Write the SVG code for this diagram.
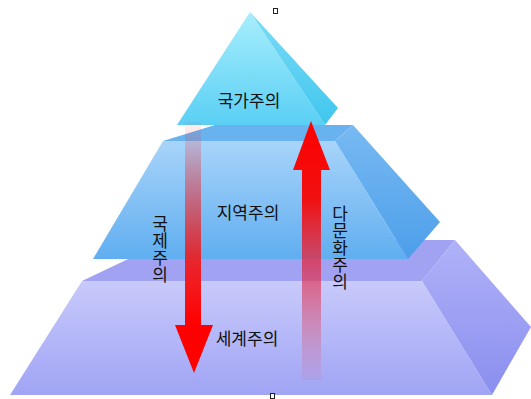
<svg xmlns="http://www.w3.org/2000/svg" width="531" height="399" viewBox="0 0 531 399">
<defs>
<style>
.t{font-family:"Noto Sans CJK KR","Noto Sans",sans-serif;font-size:17px;fill:#111;text-anchor:middle}
.v{font-family:"Noto Sans CJK KR","Noto Sans",sans-serif;font-size:17px;fill:#111;writing-mode:vertical-rl;text-anchor:start}
.h{fill:#fff;stroke:#222;stroke-width:1}
</style>
<linearGradient id="topF" x1="0" y1="0" x2="0" y2="1"><stop offset="0" stop-color="#a8eefc"/><stop offset="1" stop-color="#5acff4"/></linearGradient>
<linearGradient id="topS" x1="0" y1="0" x2="0" y2="1"><stop offset="0" stop-color="#7cdcf6"/><stop offset="1" stop-color="#40c6ee"/></linearGradient>
<linearGradient id="midF" x1="0" y1="0" x2="0" y2="1"><stop offset="0" stop-color="#a8d4fa"/><stop offset="1" stop-color="#60aef0"/></linearGradient>
<linearGradient id="midS" x1="0" y1="0" x2="0" y2="1"><stop offset="0" stop-color="#78baf2"/><stop offset="1" stop-color="#4c9eea"/></linearGradient>
<linearGradient id="botF" x1="0" y1="0" x2="0" y2="1"><stop offset="0" stop-color="#c8cafb"/><stop offset="1" stop-color="#a0a4f4"/></linearGradient>
<linearGradient id="botS" x1="0" y1="0" x2="0" y2="1"><stop offset="0" stop-color="#b0b2f8"/><stop offset="1" stop-color="#8a8eee"/></linearGradient>
<linearGradient id="down" x1="0" y1="122" x2="0" y2="373" gradientUnits="userSpaceOnUse"><stop offset="0" stop-color="#ff2020" stop-opacity="0.05"/><stop offset="0.55" stop-color="#f01818" stop-opacity="0.9"/><stop offset="0.8" stop-color="#ff0000"/><stop offset="1" stop-color="#ff0000"/></linearGradient>
<linearGradient id="up" x1="0" y1="121" x2="0" y2="380" gradientUnits="userSpaceOnUse"><stop offset="0" stop-color="#ff0000"/><stop offset="0.3" stop-color="#f01010"/><stop offset="0.6" stop-color="#e03050" stop-opacity="0.7"/><stop offset="1" stop-color="#e06080" stop-opacity="0.1"/></linearGradient>
</defs>
<g id="tier-bottom">
<polygon points="82,281 422,281 455,240 168,240" fill="#a2a2f2"/>
<polygon points="82,281 422,281 492,395 10,395" fill="url(#botF)"/>
<polygon points="422,281 455,240 531,327 492,395" fill="url(#botS)"/>
</g>
<g id="tier-middle">
<polygon points="163,141 335,141 353,125 215,125" fill="#68b2f0"/>
<polygon points="163,141 335,141 408,259 93,259" fill="url(#midF)"/>
<polygon points="335,141 353,125 440,222 408,259" fill="url(#midS)"/>
</g>
<g id="tier-top">
<polygon points="250,12 177,125 325,125" fill="url(#topF)"/>
<polygon points="250,12 338,108 325,125" fill="url(#topS)"/>
</g>
<g id="connectors">
<polygon id="arrow-down" points="185,122 201,122 201,325 213,325 194,373 175,325 185,325" fill="url(#down)"/>
<polygon id="arrow-up" points="311,121 330,170 321,170 321,380 302,380 302,170 293,170" fill="url(#up)"/>
</g>
<g id="labels">
<text class="t" x="249" y="107">국가주의</text>
<text class="t" x="248" y="219">지역주의</text>
<text class="t" x="247" y="345">세계주의</text>
<text class="v" x="160" y="215">국제주의</text>
<text class="v" x="340" y="205">다문화주의</text>
</g>
<rect class="h" x="273.5" y="8.5" width="4" height="5"/>
<rect class="h" x="270.5" y="393.5" width="4" height="5"/>
</svg>
